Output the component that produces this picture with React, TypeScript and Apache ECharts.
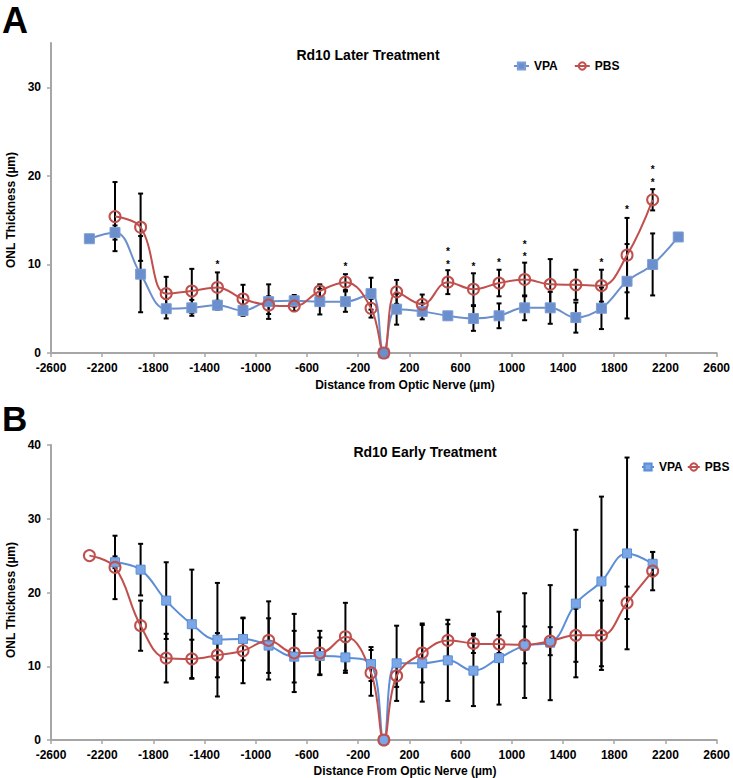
import React, { useEffect, useRef } from 'react';
import * as echarts from 'echarts';

const FONT = '"Liberation Sans", Arial, Helvetica, sans-serif';

// Axis ticks
const xTickValues = [-2600, -2200, -1800, -1400, -1000, -600, -200, 200, 600, 1000, 1400, 1800, 2200, 2600];
const yTicksLater = [0, 10, 20, 30];
const yTicksEarly = [0, 10, 20, 30, 40];

// Panel A: Rd10 Later Treatment
const xLater = [-2300, -2100, -1900, -1700, -1500, -1300, -1100, -900, -700, -500, -300, -100, 0, 100, 300, 500, 700, 900, 1100, 1300, 1500, 1700, 1900, 2100, 2300];
const vpaLater = [12.9, 13.6, 8.9, 5.0, 5.1, 5.4, 4.8, 5.8, 5.9, 5.8, 5.8, 6.7, 0, 4.95, 4.7, 4.2, 3.9, 4.2, 5.1, 5.1, 4.0, 5.05, 8.1, 10.0, 13.1];
const vpaLaterErr = [0, 0.8, 4.3, 1.1, 0.9, 0.5, 0.6, 1.95, 0.65, 1.45, 1.15, 1.8, 0, 1.75, 0.9, 0.4, 1.4, 1.4, 1.4, 1.8, 1.7, 2.35, 4.2, 3.5, 0];
const pbsLater = [null, 15.4, 14.2, 6.7, 7.0, 7.4, 6.1, 5.4, 5.3, 7.0, 8.0, 5.05, 0, 6.9, 5.5, 8.0, 7.2, 7.9, 8.3, 7.75, 7.7, 7.6, 11.05, 17.3, null];
const pbsLaterErr = [0, 3.9, 3.8, 1.9, 2.5, 1.7, 1.6, 1.0, 0.55, 0.75, 0.9, 1.05, 0, 1.35, 1.1, 1.35, 1.8, 1.5, 1.9, 2.85, 1.7, 1.8, 4.2, 1.2, 0];
// Significance marks (centre of the mark group, number of asterisks)
const starX = [-1300, -300, 500, 700, 900, 1100, 1700, 1900, 2100];
const starY = [10.2, 10.0, 10.95, 10.0, 10.5, 11.8, 10.5, 16.4, 20.2];
const starCount = [1, 1, 2, 1, 1, 2, 1, 1, 2];

// Panel B: Rd10 Early Treatment
const xEarly = [-2300, -2100, -1900, -1700, -1500, -1300, -1100, -900, -700, -500, -300, -100, 0, 100, 300, 500, 700, 900, 1100, 1300, 1500, 1700, 1900, 2100];
const vpaEarly = [null, 24.1, 23.1, 18.9, 15.7, 13.6, 13.7, 12.8, 11.3, 11.4, 11.2, 10.3, 0, 10.4, 10.4, 10.8, 9.4, 11.1, 12.8, 13.2, 18.5, 21.5, 25.3, 23.9];
const vpaEarlyErr = [0, 0.8, 3.5, 5.2, 7.4, 7.7, 2.9, 3.7, 3.5, 2.5, 2.1, 2.3, 0, 5.1, 5.2, 5.5, 4.8, 6.3, 7.1, 7.8, 10.0, 11.5, 13.0, 1.6];
const pbsEarly = [25.0, 23.4, 15.5, 11.1, 11.0, 11.5, 12.1, 13.5, 11.8, 11.8, 14.0, 9.1, 0, 8.7, 11.8, 13.5, 13.1, 13.0, 12.9, 13.4, 14.2, 14.2, 18.6, 22.9];
const pbsEarlyErr = [0, 4.3, 3.4, 3.3, 2.6, 3.0, 4.4, 5.3, 5.3, 3.0, 4.6, 3.1, 0, 1.5, 4.0, 2.2, 1.3, 1.2, 2.5, 1.9, 3.6, 4.7, 2.2, 2.6];

const pts = (xs: number[], ys: (number | null)[]) =>
  xs.map((x, i) => (ys[i] == null ? null : [x, ys[i] as number])).filter(Boolean) as number[][];
const errs = (xs: number[], ys: (number | null)[], es: number[]) =>
  xs
    .map((x, i) => (ys[i] == null || !es[i] ? null : [x, (ys[i] as number) - es[i], (ys[i] as number) + es[i]]))
    .filter(Boolean) as number[][];

const errRender = (params: any, api: any) => {
  const x = api.value(0);
  const lo = api.coord([x, api.value(1)]);
  const hi = api.coord([x, api.value(2)]);
  const w = 2.5;
  const st = { stroke: '#000', lineWidth: 2 };
  return {
    type: 'group',
    children: [
      { type: 'line', shape: { x1: lo[0], y1: lo[1], x2: hi[0], y2: hi[1] }, style: st },
      { type: 'line', shape: { x1: lo[0] - w, y1: lo[1], x2: lo[0] + w, y2: lo[1] }, style: st },
      { type: 'line', shape: { x1: hi[0] - w, y1: hi[1], x2: hi[0] + w, y2: hi[1] }, style: st },
    ],
  };
};

const STAR_GAP = 12.5;
const starRender = (params: any, api: any) => {
  const p = api.coord([api.value(0), api.value(1)]);
  const n = api.value(2);
  const children: any[] = [];
  for (let k = 0; k < n; k++) {
    const dy = (k - (n - 1) / 2) * STAR_GAP;
    children.push({
      type: 'text',
      x: p[0],
      y: p[1] + 2 + dy,
      style: {
        text: '*',
        fill: '#000',
        font: `bold 10px ${FONT}`,
        align: 'center',
        verticalAlign: 'middle',
        textAlign: 'center',
        textVerticalAlign: 'middle',
      },
    });
  }
  return { type: 'group', children };
};

const axisGray = '#a6a6a6';

const makeX = (gridIndex: number) => ({
  gridIndex,
  type: 'value',
  min: -2600,
  max: 2600,
  axisLine: { onZero: false, lineStyle: { color: axisGray, width: 2 } },
  axisTick: { customValues: xTickValues, length: 4, lineStyle: { color: axisGray, width: 1.5 } },
  axisLabel: {
    customValues: xTickValues,
    showMinLabel: true,
    showMaxLabel: true,
    formatter: (v: number) => String(v),
    color: '#000',
    fontWeight: 'bold',
    fontSize: 12,
    fontFamily: FONT,
    margin: 9,
  },
  splitLine: { show: false },
});

const makeY = (gridIndex: number, max: number, ticks: number[]) => ({
  gridIndex,
  type: 'value',
  min: 0,
  max,
  axisLine: { show: true, onZero: false, lineStyle: { color: axisGray, width: 2 } },
  axisTick: { show: true, customValues: ticks, length: 4, lineStyle: { color: axisGray, width: 1.5 } },
  axisLabel: {
    customValues: ticks,
    formatter: (v: number) => String(v),
    color: '#000',
    fontWeight: 'bold',
    fontSize: 12,
    fontFamily: FONT,
    margin: 10,
  },
  splitLine: { show: false },
});

const RED = '#c0504d';
const BLUE_A = '#6b8fcc';
const BLUE_B_LINE = '#5b8ed6';
const BLUE_B_FILL = '#7ba7e6';

export default function App() {
  const ref = useRef<HTMLDivElement>(null);
  useEffect(() => {
    if (!ref.current) return;
    const chart = echarts.init(ref.current, null, { renderer: 'svg' });
    const legendText = { fontSize: 12, fontWeight: 'bold', fontFamily: FONT, color: '#000' };
    const option: any = {
      animation: false,
      backgroundColor: '#fff',
      title: [
        {
          text: 'Rd10 Later Treatment',
          left: 363,
          top: 43,
          textAlign: 'center',
          textStyle: { fontSize: 14, fontWeight: 'bold', fontFamily: FONT, color: '#000' },
        },
        {
          text: 'Rd10 Early Treatment',
          left: 420,
          top: 440,
          textAlign: 'center',
          textStyle: { fontSize: 14, fontWeight: 'bold', fontFamily: FONT, color: '#000' },
        },
      ],
      legend: [
        {
          data: ['VPA', 'PBS'],
          left: 513,
          top: 60,
          padding: 0,
          itemWidth: 15,
          itemHeight: 9,
          itemGap: 16,
          textStyle: legendText,
        },
        {
          data: ['VPA (B)', 'PBS (B)'],
          left: 641,
          top: 461,
          padding: 0,
          itemWidth: 12,
          itemHeight: 9,
          itemGap: 4,
          formatter: (n: string) => n.split(' ')[0],
          textStyle: legendText,
        },
      ],
      grid: [
        { left: 51, top: 43, width: 668, height: 310 },
        { left: 51, top: 445, width: 668, height: 295 },
      ],
      xAxis: [makeX(0), makeX(1)],
      yAxis: [makeY(0, 35, yTicksLater), makeY(1, 40, yTicksEarly)],
      series: [
        {
          type: 'custom',
          name: 'errVPA_A',
          xAxisIndex: 0,
          yAxisIndex: 0,
          z: 2,
          itemStyle: { color: '#000' },
          renderItem: errRender,
          encode: { x: 0, y: [1, 2] },
          data: errs(xLater, vpaLater, vpaLaterErr),
        },
        {
          type: 'custom',
          name: 'errPBS_A',
          xAxisIndex: 0,
          yAxisIndex: 0,
          z: 2,
          itemStyle: { color: '#000' },
          renderItem: errRender,
          encode: { x: 0, y: [1, 2] },
          data: errs(xLater, pbsLater, pbsLaterErr),
        },
        {
          type: 'line',
          name: 'VPA',
          xAxisIndex: 0,
          yAxisIndex: 0,
          z: 3,
          smooth: 0.4,
          symbol: 'rect',
          symbolSize: 10,
          lineStyle: { color: BLUE_A, width: 2 },
          itemStyle: { color: BLUE_A, borderColor: '#7c9dd6', borderWidth: 1 },
          data: pts(xLater, vpaLater),
        },
        {
          type: 'line',
          name: 'PBS',
          xAxisIndex: 0,
          yAxisIndex: 0,
          z: 3,
          smooth: 0.4,
          symbol: 'circle',
          symbolSize: 11,
          lineStyle: { color: RED, width: 2 },
          itemStyle: { color: 'rgba(255,255,255,0)', borderColor: RED, borderWidth: 2 },
          data: pts(xLater, pbsLater),
        },
        {
          type: 'custom',
          name: 'stars',
          xAxisIndex: 0,
          yAxisIndex: 0,
          z: 4,
          itemStyle: { color: '#000' },
          renderItem: starRender,
          encode: { x: 0, y: 1 },
          data: starX.map((x, i) => [x, starY[i], starCount[i]]),
        },
        {
          type: 'custom',
          name: 'errVPA_B',
          xAxisIndex: 1,
          yAxisIndex: 1,
          z: 2,
          itemStyle: { color: '#000' },
          renderItem: errRender,
          encode: { x: 0, y: [1, 2] },
          data: errs(xEarly, vpaEarly, vpaEarlyErr),
        },
        {
          type: 'custom',
          name: 'errPBS_B',
          xAxisIndex: 1,
          yAxisIndex: 1,
          z: 2,
          itemStyle: { color: '#000' },
          renderItem: errRender,
          encode: { x: 0, y: [1, 2] },
          data: errs(xEarly, pbsEarly, pbsEarlyErr),
        },
        {
          type: 'line',
          name: 'VPA (B)',
          xAxisIndex: 1,
          yAxisIndex: 1,
          z: 3,
          smooth: 0.4,
          symbol: 'rect',
          symbolSize: 9,
          lineStyle: { color: BLUE_B_LINE, width: 2 },
          itemStyle: { color: BLUE_B_FILL, borderColor: BLUE_B_LINE, borderWidth: 1 },
          data: pts(xEarly, vpaEarly),
        },
        {
          type: 'line',
          name: 'PBS (B)',
          xAxisIndex: 1,
          yAxisIndex: 1,
          z: 3,
          smooth: 0.4,
          symbol: 'circle',
          symbolSize: 11,
          lineStyle: { color: RED, width: 2 },
          itemStyle: { color: 'rgba(255,255,255,0)', borderColor: RED, borderWidth: 2 },
          data: pts(xEarly, pbsEarly),
        },
      ],
      graphic: [
        { type: 'text', left: 2, top: 2, style: { text: 'A', font: `bold 36px ${FONT}`, fill: '#000' } },
        { type: 'text', left: 2, top: 401, style: { text: 'B', font: `bold 35px ${FONT}`, fill: '#000' } },
        {
          type: 'text',
          x: 11,
          y: 210,
          rotation: Math.PI / 2,
          style: { text: 'ONL Thickness (µm)', font: `bold 12px ${FONT}`, fill: '#000', textAlign: 'center', textVerticalAlign: 'middle' },
        },
        {
          type: 'text',
          x: 11,
          y: 600,
          rotation: Math.PI / 2,
          style: { text: 'ONL Thickness (µm)', font: `bold 12px ${FONT}`, fill: '#000', textAlign: 'center', textVerticalAlign: 'middle' },
        },
        {
          type: 'text',
          x: 405,
          y: 385,
          style: { text: 'Distance from Optic Nerve (µm)', font: `bold 12px ${FONT}`, fill: '#000', textAlign: 'center', textVerticalAlign: 'middle' },
        },
        {
          type: 'text',
          x: 405,
          y: 771,
          style: { text: 'Distance From Optic Nerve (µm)', font: `bold 12px ${FONT}`, fill: '#000', textAlign: 'center', textVerticalAlign: 'middle' },
        },
      ],
    };
    chart.setOption(option);
    return () => chart.dispose();
  }, []);
  return <div ref={ref} style={{ position: 'absolute', left: 0, top: 0, width: 733, height: 778 }} />;
}
